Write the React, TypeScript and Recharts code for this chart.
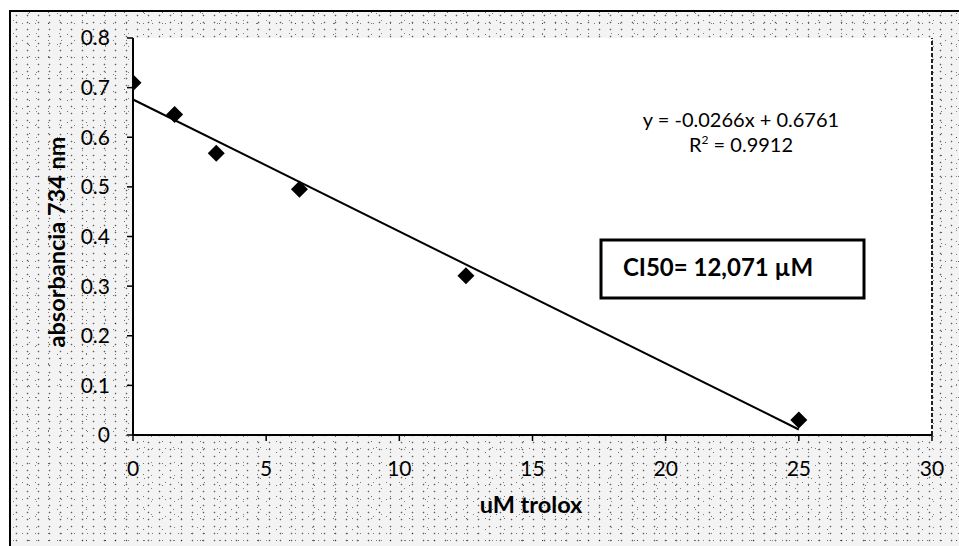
import React from "react";
import {
  ScatterChart,
  Scatter,
  XAxis,
  YAxis,
  ReferenceArea,
  ReferenceLine,
} from "recharts";

// ---- data ----
const concentrations = [0, 1.5625, 3.125, 6.25, 12.5, 25];
const absorbance = [0.71, 0.646, 0.568, 0.495, 0.321, 0.03];
const xTicks = [0, 5, 10, 15, 20, 25, 30];
const yTicks = [0, 0.1, 0.2, 0.3, 0.4, 0.5, 0.6, 0.7, 0.8];
const trendX = [0, 25];
const trendY = [0.6761, 0.0111];
const equationText = "y = -0.0266x + 0.6761";
const r2Value = "0.9912";
const ic50Text = "CI50= 12,071 µM";
const xTitle = "uM trolox";
const yTitle = "absorbancia 734 nm";

const points = concentrations.map((x, i) => ({ x, y: absorbance[i] }));

const FONT = "Lato, 'Open Sans', sans-serif";

const Diamond = (props: any) => {
  const { cx, cy } = props;
  if (cx == null || cy == null) return null;
  const r = 8.5;
  return (
    <path
      d={`M${cx},${cy - r} L${cx + r},${cy} L${cx},${cy + r} L${cx - r},${cy} Z`}
      fill="#000"
    />
  );
};

const speckle =
  "radial-gradient(circle, rgba(0,0,0,0.6) 0.7px, transparent 1.1px)," +
  "radial-gradient(circle, rgba(0,0,0,0.5) 0.6px, transparent 1px)," +
  "radial-gradient(circle, rgba(0,0,0,0.55) 0.6px, transparent 1px)," +
  "radial-gradient(circle, rgba(0,0,0,0.45) 0.5px, transparent 0.9px)," +
  "radial-gradient(circle, rgba(0,0,0,0.5) 0.6px, transparent 1px)";

export default function App() {
  return (
    <div
      style={{
        position: "absolute",
        left: 0,
        top: 0,
        width: 959,
        height: 546,
        background: "#fff",
        overflow: "hidden",
      }}
    >
      <div
        style={{
          position: "absolute",
          left: 9,
          top: 10,
          width: 980,
          height: 560,
          borderLeft: "2px solid #000",
          borderTop: "2px solid #000",
          backgroundColor: "#f3f3f3",
          backgroundImage: speckle,
          backgroundSize: "11px 7px, 13px 17px, 19px 11px, 23px 13px, 29px 31px",
          backgroundPosition: "0 0, 5px 3px, 9px 6px, 14px 2px, 3px 17px",
        }}
      />
      <div style={{ position: "absolute", left: 0, top: 0 }}>
        <ScatterChart
          width={959}
          height={546}
          margin={{ top: 38, right: 27, bottom: 51, left: 73 }}
        >
          <XAxis
            type="number"
            dataKey="x"
            domain={[0, 30]}
            ticks={xTicks}
            allowDataOverflow
            height={60}
            axisLine={{ stroke: "#000", strokeWidth: 2 }}
            tickLine={{ stroke: "#000", strokeWidth: 1.5 }}
            tickSize={6}
            tickMargin={20}
            tick={{ fill: "#000", fontSize: 21, fontFamily: FONT }}
          />
          <YAxis
            type="number"
            dataKey="y"
            domain={[0, 0.8]}
            ticks={yTicks}
            allowDataOverflow
            width={60}
            axisLine={{ stroke: "#000", strokeWidth: 2 }}
            tickLine={{ stroke: "#000", strokeWidth: 1.5 }}
            tickSize={6}
            tickMargin={17}
            tick={{ fill: "#000", fontSize: 21, fontFamily: FONT }}
          />
          <ReferenceArea
            x1={0}
            x2={30}
            y1={0}
            y2={0.8}
            fill="#fff"
            fillOpacity={1}
            stroke="none"
            ifOverflow="visible"
          />
          <ReferenceLine
            x={30}
            stroke="#222"
            strokeWidth={2}
            strokeDasharray="4 2"
          />
          <ReferenceLine
            segment={[
              { x: trendX[0], y: trendY[0] },
              { x: trendX[1], y: trendY[1] },
            ]}
            stroke="#000"
            strokeWidth={2}
            ifOverflow="visible"
          />
          <Scatter
            data={points}
            shape={<Diamond />}
            isAnimationActive={false}
          />
        </ScatterChart>
      </div>
      <svg
        width={959}
        height={546}
        style={{ position: "absolute", left: 0, top: 0, pointerEvents: "none" }}
      >
        <text
          x={741}
          y={127}
          textAnchor="middle"
          fontFamily={FONT}
          fontSize={20}
          fill="#000"
        >
          {equationText}
        </text>
        <text
          x={741}
          y={152}
          textAnchor="middle"
          fontFamily={FONT}
          fontSize={20}
          fill="#000"
        >
          R<tspan fontSize={12} dy={-8}>2</tspan>
          <tspan dy={8}>{" = " + r2Value}</tspan>
        </text>
        <rect
          x={601}
          y={240}
          width={263}
          height={58}
          fill="#fff"
          stroke="#000"
          strokeWidth={3}
        />
        <text
          x={718}
          y={276}
          textAnchor="middle"
          fontFamily={FONT}
          fontSize={24}
          fontWeight="bold"
          fill="#000"
        >
          {ic50Text}
        </text>
        <text
          x={531}
          y={513}
          textAnchor="middle"
          fontFamily={FONT}
          fontSize={23.5}
          fontWeight="bold"
          fill="#000"
        >
          {xTitle}
        </text>
        <text
          x={65}
          y={242}
          textAnchor="middle"
          fontFamily={FONT}
          fontSize={23.5}
          fontWeight="bold"
          fill="#000"
          transform="rotate(-90 65 242)"
        >
          {yTitle}
        </text>
      </svg>
    </div>
  );
}
